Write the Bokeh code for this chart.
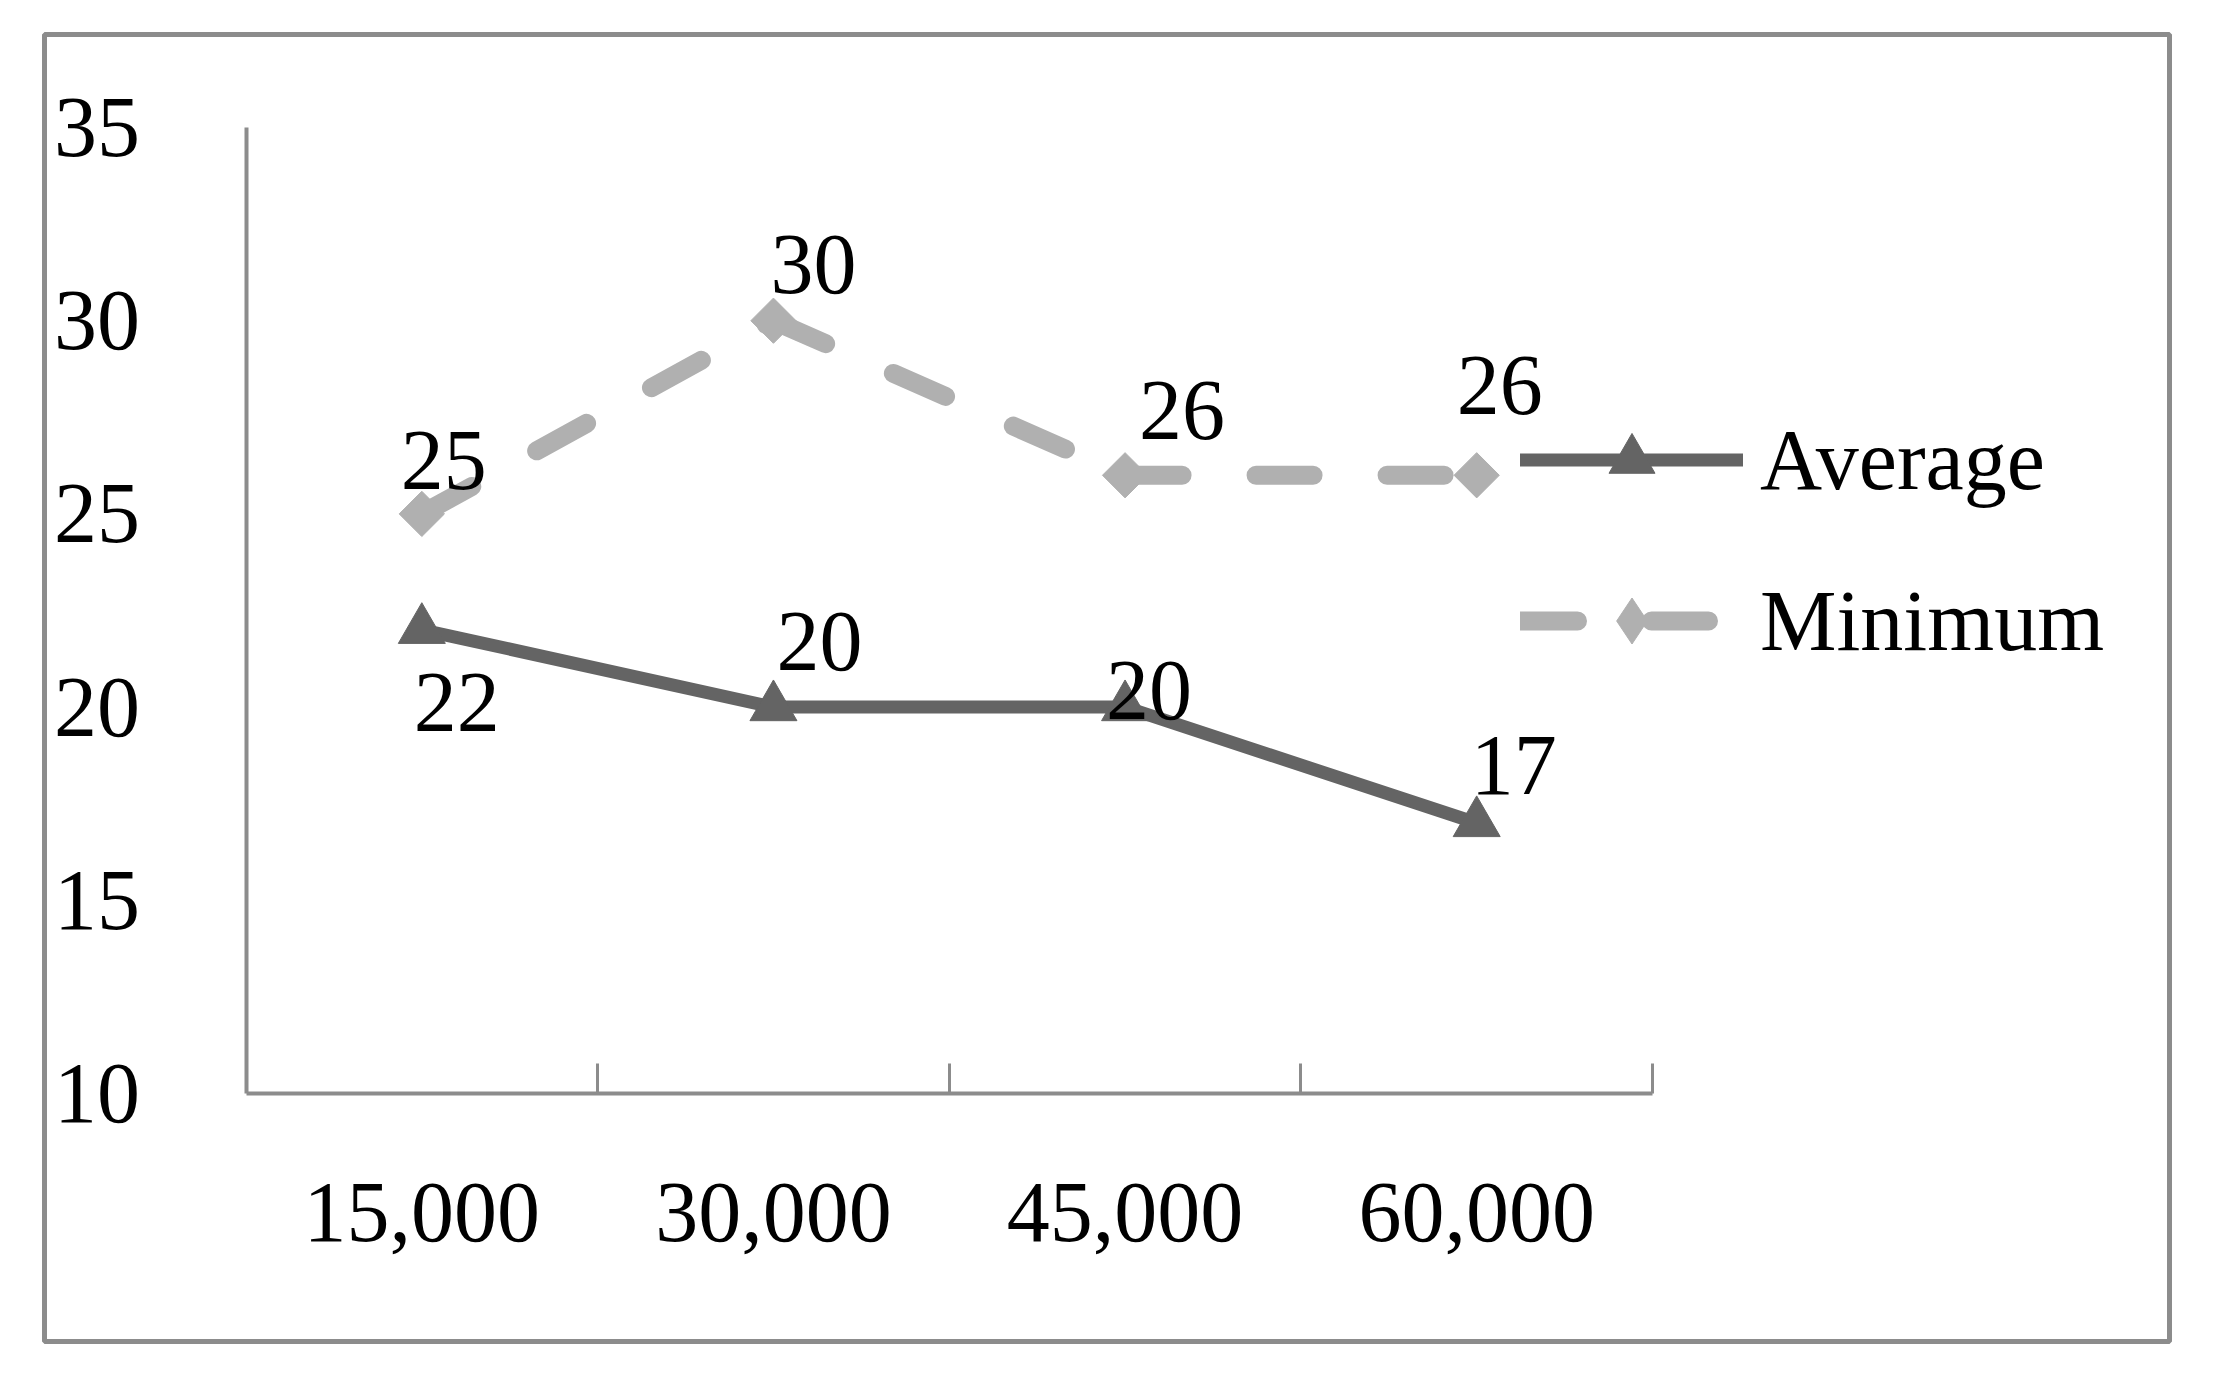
import numpy as np
from bokeh.plotting import figure
from bokeh.models import (Range1d, LinearAxis, FixedTicker,
                          Legend, LegendItem, ColumnDataSource, Grid)
from bokeh.core.properties import value
from bokeh.embed import file_html
from bokeh.resources import INLINE

# ---- data ----
categories = ["15,000", "30,000", "45,000", "60,000"]
average = [22, 20, 20, 17]
minimum = [25, 30, 26, 26]
y_ticks = [10, 15, 20, 25, 30, 35]

# ---- label placement (pixel offsets, style only) ----
avg_label_dx = [35, 46, 24, 37]
avg_label_dy = [73, -66, -17, -58]
min_label_dx = [22, 40, 57, 23]
min_label_dy = [-53, -56, -65, -90]

FONT = "Liberation Serif"
FS = "86px"
AVG_C = "#646464"
MIN_C = "#b0b0b0"
AX_C = "#8c8c8c"

n = len(categories)
xpos = [i + 0.5 for i in range(n)]          # category centres
bounds = [i + 1 for i in range(n)]          # category boundaries (tick marks)

# frame = outer bordered box; axes are placed inside it at fixed locations
p = figure(x_range=Range1d(-0.5731, n + 1.4703), y_range=Range1d(3.582, 37.407),
           width=2200, height=1370,
           min_border_left=44, min_border_right=31,
           min_border_top=34, min_border_bottom=29,
           output_backend="svg", toolbar_location=None,
           x_axis_location=None, y_axis_location=None)
p.outline_line_color = AX_C
p.outline_line_width = 5
p.background_fill_color = "white"
p.border_fill_color = "white"
for g in list(p.center):
    if isinstance(g, Grid):
        g.visible = False

x_axis = LinearAxis(fixed_location=y_ticks[0], bounds=(0, n),
                    ticker=FixedTicker(ticks=xpos, minor_ticks=bounds),
                    major_label_overrides={x: c for x, c in zip(xpos, categories)},
                    major_tick_line_color=None, major_tick_in=0, major_tick_out=0,
                    minor_tick_line_color=AX_C, minor_tick_line_width=3,
                    minor_tick_in=30, minor_tick_out=0,
                    axis_line_color=AX_C, axis_line_width=4,
                    major_label_text_font=FONT, major_label_text_font_size=FS,
                    major_label_text_color="black", major_label_standoff=90)
p.add_layout(x_axis, "below")

y_axis = LinearAxis(fixed_location=0, bounds=(y_ticks[0], y_ticks[-1]),
                    ticker=FixedTicker(ticks=y_ticks),
                    major_tick_line_color=None, major_tick_in=0, major_tick_out=0,
                    minor_tick_line_color=None,
                    axis_line_color=AX_C, axis_line_width=4,
                    major_label_text_font=FONT, major_label_text_font_size=FS,
                    major_label_text_color="black", major_label_standoff=106)
p.add_layout(y_axis, "left")

# ---- Average series ----
src_avg = ColumnDataSource(dict(x=xpos, y=average,
                                label=[str(v) for v in average],
                                dx=avg_label_dx, dy=avg_label_dy))
avg_line = p.line("x", "y", source=src_avg, line_color=AVG_C, line_width=13,
                  line_join="round", line_cap="round")
avg_pts = p.scatter("x", "y", source=src_avg, marker="triangle", size=47,
                    fill_color=AVG_C, line_color=AVG_C)

# ---- Minimum series (dash pattern restarts at each point) ----
src_min_seg = ColumnDataSource(dict(x0=xpos[:-1], y0=minimum[:-1],
                                    x1=xpos[1:], y1=minimum[1:]))
min_seg = p.segment("x0", "y0", "x1", "y1", source=src_min_seg, line_color=MIN_C,
                    line_width=19, line_dash="57 74", line_cap="round")
src_min = ColumnDataSource(dict(x=xpos, y=minimum,
                                label=[str(v) for v in minimum],
                                dx=min_label_dx, dy=min_label_dy))
min_pts = p.scatter("x", "y", source=src_min, marker="square", angle=np.pi / 4, size=32,
                    fill_color=MIN_C, line_color=MIN_C)
min_leg_marker = p.scatter("x", "y", source=src_min, marker="diamond", size=0,
                           fill_color=MIN_C, line_color=MIN_C)

# ---- data labels ----
for src in (src_avg, src_min):
    p.text("x", "y", text="label", source=src, x_offset="dx", y_offset="dy",
           text_font=value(FONT), text_font_size=FS, text_align="center",
           text_baseline="alphabetic", text_color="black")

# ---- legend ----
legend = Legend(items=[LegendItem(label="Average", renderers=[avg_line, avg_pts]),
                       LegendItem(label="Minimum", renderers=[min_seg, min_leg_marker])],
                location=(1476, 663), orientation="vertical",
                glyph_width=223, glyph_height=115, label_height=100,
                label_standoff=17, spacing=46, padding=0, margin=0,
                border_line_color=None, background_fill_alpha=0,
                label_text_font=FONT, label_text_font_size=FS,
                label_text_color="black")
p.add_layout(legend, "center")

open("out.html", "w").write(file_html(p, INLINE))
